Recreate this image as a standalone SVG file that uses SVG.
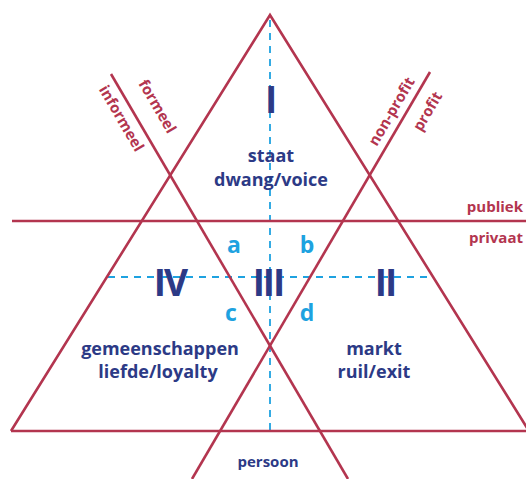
<svg xmlns="http://www.w3.org/2000/svg" width="526" height="479" viewBox="0 0 526 479">
<style>
.ln{stroke:#b3354f;stroke-width:2.6;fill:none}
.ds{stroke:#1ea2e0;stroke-width:1.8;stroke-dasharray:7,6;fill:none}
.rn{font-family:"Open Sans","DejaVu Sans",sans-serif;font-weight:700;fill:#2c3a86;text-anchor:middle;font-size:37px;letter-spacing:-2px}
.t{font-family:"Open Sans","DejaVu Sans",sans-serif;font-weight:700;fill:#2c3a86;font-size:18px;text-anchor:middle}
.ab{font-family:"Open Sans","DejaVu Sans",sans-serif;font-weight:700;fill:#1ea2e0;font-size:23px;text-anchor:middle}
.lb{font-family:"Open Sans","DejaVu Sans",sans-serif;font-weight:700;fill:#b3354f;font-size:15px}
</style>
<g id="connectors">
<line class="ds" x1="270" y1="20" x2="270" y2="430"/>
<line class="ds" x1="108" y1="277" x2="432" y2="277"/>
<polyline class="ln" points="11,431 270,15 529,431"/>
<line class="ln" x1="11" y1="431" x2="526" y2="431"/>
<line class="ln" x1="12" y1="221" x2="526" y2="221"/>
<line class="ln" x1="111" y1="74" x2="348" y2="479"/>
<line class="ln" x1="430" y1="72" x2="192" y2="479"/>
</g>
<g id="sector-I">
<text class="rn" x="270" y="113">I</text>
<text class="t" x="271" y="162">staat</text>
<text class="t" x="271" y="186">dwang/voice</text>
</g>
<g id="sector-II">
<text class="rn" x="385" y="296">II</text>
<text class="t" x="374" y="355">markt</text>
<text class="t" x="374" y="378">ruil/exit</text>
</g>
<g id="sector-III">
<text class="rn" x="268" y="296">III</text>
<text class="ab" x="234" y="253">a</text>
<text class="ab" x="307" y="253">b</text>
<text class="ab" x="231" y="321">c</text>
<text class="ab" x="307" y="321">d</text>
</g>
<g id="sector-IV">
<text class="rn" x="170" y="296">IV</text>
<text class="t" x="160" y="355">gemeenschappen</text>
<text class="t" x="158" y="378">liefde/loyalty</text>
</g>
<g id="labels">
<text class="lb" text-anchor="end" x="523" y="212">publiek</text>
<text class="lb" text-anchor="end" x="523" y="243">privaat</text>
<text class="t" x="268" y="467" style="font-size:15px">persoon</text>
<text class="lb" text-anchor="middle" transform="translate(153,109) rotate(59.6)">formeel</text>
<text class="lb" text-anchor="middle" transform="translate(117,121) rotate(59.6)">informeel</text>
<text class="lb" text-anchor="middle" transform="translate(396,114) rotate(-59.6)">non-profit</text>
<text class="lb" text-anchor="middle" transform="translate(432,114) rotate(-59.6)">profit</text>
</g>
</svg>
